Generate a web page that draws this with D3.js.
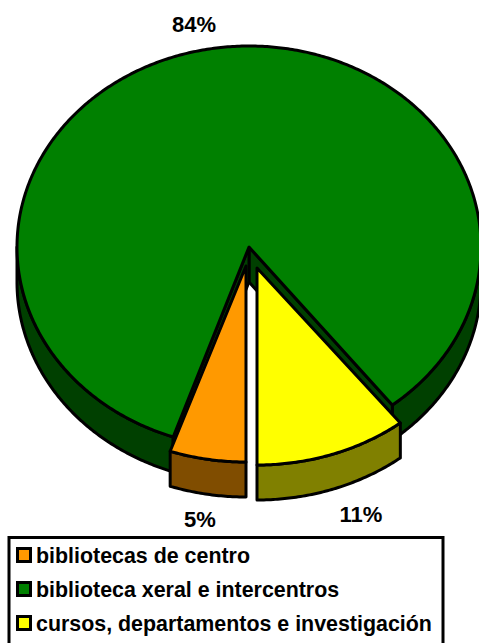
<!DOCTYPE html>
<html lang="en">
<head>
  <meta charset="UTF-8">
  <title>Pie chart</title>
  <style>
    html, body { margin: 0; padding: 0; background: #fff; overflow: hidden; }
    svg { display: block; }
    text { font-family: "Liberation Sans", Arial, sans-serif; font-weight: bold; fill: #000; }
  </style>
</head>
<body>
  <script src="https://d3js.org/d3.v7.min.js"></script>
  <script>
    const categories = ['bibliotecas de centro', 'biblioteca xeral e intercentros', 'cursos, departamentos e investigación'];
    const values = [5.3, 84.1, 10.6];

    const WIDTH = 479;
    const HEIGHT = 643;
    const RX = 232;
    const DEPTH = 35;
    const STROKE = 3;

    // one entry per slice, same order as categories
    const topColors = ['#ff9900', '#008000', '#ffff00'];
    const sideColors = ['#804d00', '#004000', '#808000'];
    const centers = [[246, 266], [249, 247], [257, 268]];
    const radiiY = [196, 201, 197];
    const labelPos = [[200, 527], [194, 32], [361, 522]];

    const svg = d3.select('body').append('svg')
      .attr('width', WIDTH)
      .attr('height', HEIGHT);

    const slices = d3.pie().sort(null).startAngle(Math.PI).endAngle(3 * Math.PI)(values);

    const line = d3.line();

    // angle is clockwise from the top, squashed onto the ellipse
    function point(i, a, drop = 0) {
      return [centers[i][0] + RX * Math.sin(a), centers[i][1] - radiiY[i] * Math.cos(a) + drop];
    }

    function arcPoints(i, a0, a1, drop = 0) {
      const n = Math.ceil(Math.abs(a1 - a0) / 0.01);
      return d3.range(n + 1).map((k) => point(i, a0 + (a1 - a0) * k / n, drop));
    }

    function drawPath(pts, fill) {
      svg.append('path')
        .attr('d', line(pts) + 'Z')
        .attr('fill', fill)
        .attr('stroke', '#000')
        .attr('stroke-width', STROKE)
        .attr('stroke-linejoin', 'round');
    }

    function drawRim(i, a0, a1) {
      drawPath(arcPoints(i, a0, a1).concat(arcPoints(i, a1, a0, DEPTH)), sideColors[i]);
    }

    // big slice first, it sits behind the two pulled out ones
    const big = slices[1];
    drawRim(1, big.startAngle, 1.5 * Math.PI);
    drawRim(1, 2.5 * Math.PI, big.endAngle);
    const c = centers[1];
    const cut = point(1, big.endAngle);
    drawPath([c, cut, [cut[0], cut[1] + DEPTH], [c[0], c[1] + DEPTH]], sideColors[1]);
    const cut2 = point(1, big.startAngle);
    drawPath([c, cut2, [cut2[0], cut2[1] + DEPTH], [c[0], c[1] + DEPTH]], sideColors[1]);
    drawPath([c].concat(arcPoints(1, big.startAngle, big.endAngle)), topColors[1]);

    [0, 2].forEach((i) => {
      const s = slices[i];
      drawRim(i, s.startAngle, s.endAngle);
      drawPath([centers[i]].concat(arcPoints(i, s.startAngle, s.endAngle)), topColors[i]);
    });

    svg.selectAll('.pct')
      .data(slices)
      .enter()
      .append('text')
      .attr('class', 'pct')
      .attr('x', (d, i) => labelPos[i][0])
      .attr('y', (d, i) => labelPos[i][1])
      .attr('text-anchor', 'middle')
      .attr('font-size', 22)
      .text((d) => `${Math.round(d.value)}%`);

    // legend, bottom edge runs off the page like in the original
    const LEGEND_X = 9;
    const LEGEND_Y = 537.5;
    svg.append('rect')
      .attr('x', LEGEND_X)
      .attr('y', LEGEND_Y)
      .attr('width', 434)
      .attr('height', 120)
      .attr('fill', '#fff')
      .attr('stroke', '#000')
      .attr('stroke-width', STROKE);

    const legendY = d3.scalePoint().domain(categories).range([555, 623]);

    const rows = svg.selectAll('.row')
      .data(categories)
      .enter()
      .append('g')
      .attr('class', 'row')
      .attr('transform', (d) => `translate(${LEGEND_X},${legendY(d)})`);

    rows.append('rect')
      .attr('x', 8.5)
      .attr('y', -6.5)
      .attr('width', 13)
      .attr('height', 13)
      .attr('fill', (d, i) => topColors[i])
      .attr('stroke', '#000')
      .attr('stroke-width', STROKE);

    rows.append('text')
      .attr('x', 27)
      .attr('y', 7.5)
      .attr('font-size', 21.4)
      .text((d) => d);
  </script>
</body>
</html>
